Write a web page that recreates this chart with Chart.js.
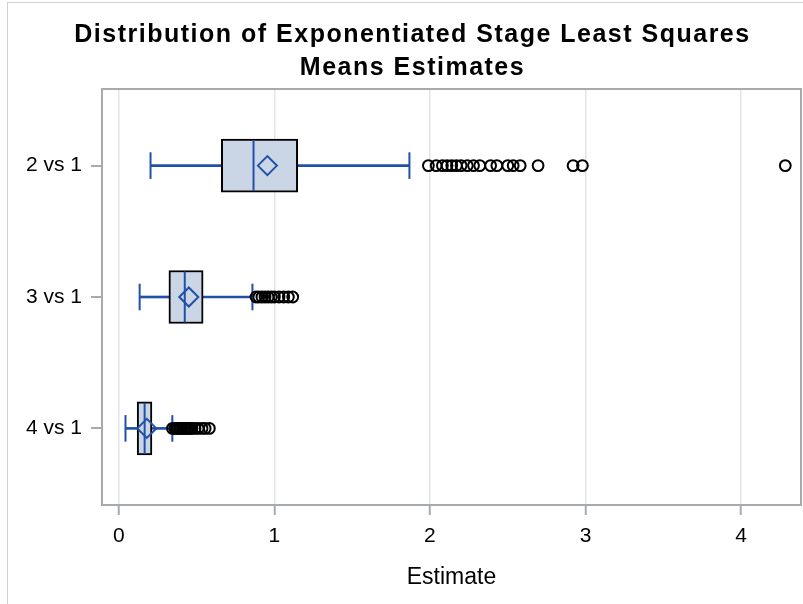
<!DOCTYPE html>
<html>
<head>
<meta charset="utf-8">
<script src="https://cdn.jsdelivr.net/npm/chart.js@4"></script>
<style>
  html, body { margin: 0; padding: 0; background: #fff; }
  #wrap { position: relative; width: 803px; height: 604px; overflow: hidden; }
  #edge { position: absolute; left: 7px; top: 2px; width: 900px; height: 700px;
          border-left: 1px solid #d0d0d0; border-top: 1px solid #d0d0d0; }
  canvas { position: absolute; left: 0; top: 0; }
  #title { position: absolute; left: 22px; top: 17px; width: 781px; text-align: center;
           font: bold 25px 'Liberation Sans', Arial, sans-serif; line-height: 33px;
           letter-spacing: 1.5px; color: #000; }
</style>
</head>
<body>
<div id="wrap">
  <div id="edge"></div>
  <canvas id="boxChart" width="803" height="604"></canvas>
  <div id="title">Distribution of Exponentiated Stage Least Squares<br>Means Estimates</div>
</div>
<script>
// categories and box statistics
const categories = ["2 vs 1", "3 vs 1", "4 vs 1"];
const whiskerLow = [0.204, 0.134, 0.043];
const q1 = [0.659, 0.322, 0.118];
const median = [0.866, 0.424, 0.166];
const q3 = [1.150, 0.542, 0.213];
const whiskerHigh = [1.868, 0.859, 0.344];
const means = [0.955, 0.450, 0.180];

const outliers2v1 = [1.99, 2.04, 2.08, 2.11, 2.14, 2.17, 2.20, 2.24, 2.28, 2.32,
  2.39, 2.43, 2.50, 2.535, 2.58, 2.695, 2.92, 2.98, 4.284];
const outliers3v1 = [0.882, 0.90, 0.92, 0.94, 0.96, 0.98, 1.00, 1.03, 1.06, 1.09, 1.118];
const outliers4v1 = [0.345, 0.36, 0.37, 0.38, 0.39, 0.40, 0.41, 0.42, 0.43, 0.44,
  0.45, 0.46, 0.47, 0.49, 0.51, 0.535, 0.555, 0.582];

const xTicks = [0, 1, 2, 3, 4];

const BLUE = "#2150a8";
const FONT = "'Liberation Sans', Arial, sans-serif";

const idx = categories.map((c, i) => i);
const outlierPoints = [outliers2v1, outliers3v1, outliers4v1]
  .flatMap((list, i) => list.map((v) => ({ x: v, y: i })));

const framePlugin = {
  id: "frame",
  beforeDatasetsDraw(chart) {
    const a = chart.chartArea;
    const ctx = chart.ctx;
    ctx.save();
    ctx.strokeStyle = "#a7abb0";
    ctx.lineWidth = 2;
    ctx.strokeRect(a.left, a.top, a.right - a.left, a.bottom - a.top);
    ctx.restore();
  },
};

new Chart(document.getElementById("boxChart"), {
  type: "bar",
  plugins: [framePlugin],
  data: {
    datasets: [
      {
        type: "scatter",
        order: 0,
        data: outlierPoints,
        pointStyle: "circle",
        pointRadius: 5.4,
        pointBorderWidth: 2,
        pointBorderColor: "#000",
        pointBackgroundColor: "rgba(0,0,0,0)",
      },
      {
        type: "scatter",
        order: 1,
        data: idx.map((i) => ({ x: means[i], y: i })),
        pointStyle: "rectRot",
        pointRadius: 9.5,
        pointBorderWidth: 2,
        pointBorderColor: BLUE,
        pointBackgroundColor: "rgba(0,0,0,0)",
      },
      {
        type: "scatter",
        order: 2,
        data: idx.map((i) => ({ x: median[i], y: i })),
        pointStyle: "line",
        rotation: 90,
        pointRadius: 25.5,
        pointBorderWidth: 2,
        pointBorderColor: BLUE,
      },
      {
        type: "scatter",
        order: 3,
        data: idx.flatMap((i) => [
          { x: whiskerLow[i], y: i },
          { x: whiskerHigh[i], y: i },
        ]),
        pointStyle: "line",
        rotation: 90,
        pointRadius: 13.3,
        pointBorderWidth: 2,
        pointBorderColor: BLUE,
      },
      {
        order: 4,
        data: idx.map((i) => ({ y: i, x: [q1[i], q3[i]] })),
        backgroundColor: "#cad5e5",
        borderColor: "#000",
        borderWidth: 2,
        borderSkipped: false,
        barThickness: 53,
        grouped: false,
      },
      {
        order: 5,
        data: idx.flatMap((i) => [
          { y: i, x: [whiskerLow[i], q1[i]] },
          { y: i, x: [q3[i], whiskerHigh[i]] },
        ]),
        backgroundColor: BLUE,
        borderWidth: 0,
        barThickness: 2,
        grouped: false,
      },
    ],
  },
  options: {
    indexAxis: "y",
    responsive: false,
    devicePixelRatio: 1,
    animation: false,
    events: [],
    layout: { autoPadding: false, padding: { left: 24, right: 2, top: 89, bottom: 0 } },
    plugins: {
      legend: { display: false },
      tooltip: { enabled: false },
      title: { display: false },
    },
    scales: {
      x: {
        type: "linear",
        min: -0.108,
        max: 4.385,
        afterBuildTicks: (scale) => {
          scale.ticks = xTicks.map((v) => ({ value: v }));
        },
        afterFit: (scale) => {
          scale.height = 99;
          scale.paddingLeft = 0;
          scale.paddingRight = 0;
        },
        grid: { color: "#e4e4e4", lineWidth: 1.5, tickLength: 10, tickColor: "#a7abb0", tickWidth: 2 },
        border: { display: false },
        ticks: { color: "#000", padding: 9, font: { family: FONT, size: 21 } },
        title: {
          display: true,
          text: "Estimate",
          color: "#000",
          font: { family: FONT, size: 23 },
          padding: { top: 0, bottom: 13 },
        },
      },
      y: {
        type: "linear",
        reverse: true,
        offset: false,
        min: -0.583,
        max: 2.583,
        afterBuildTicks: (scale) => {
          scale.ticks = idx.map((i) => ({ value: i }));
        },
        afterFit: (scale) => {
          scale.width = 78;
          scale.paddingTop = 0;
          scale.paddingBottom = 0;
        },
        grid: { drawOnChartArea: false, offset: false, tickLength: 11, color: "#a7abb0", lineWidth: 2 },
        border: { display: false },
        ticks: {
          color: "#000",
          padding: 9,
          font: { family: FONT, size: 21 },
          callback: (v) => categories[v],
        },
      },
    },
  },
});
</script>
</body>
</html>
